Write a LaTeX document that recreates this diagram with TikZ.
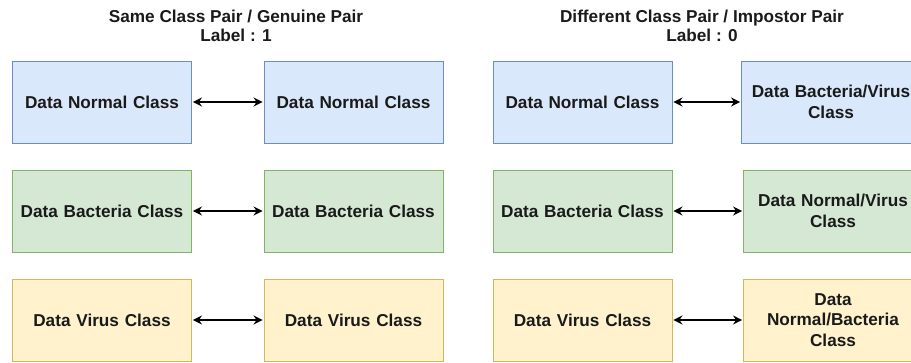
\documentclass[tikz,border=0pt]{standalone}
\usepackage{fontspec}
\setmainfont{Liberation Sans}
\usetikzlibrary{arrows.meta}
\definecolor{txt}{HTML}{1A1A1A}
\definecolor{bfill}{HTML}{DAE8FC}\definecolor{bline}{HTML}{6C8EBF}
\definecolor{gfill}{HTML}{D5E8D4}\definecolor{gline}{HTML}{82B366}
\definecolor{yfill}{HTML}{FFF2CC}\definecolor{yline}{HTML}{D6B656}
\begin{document}
\begin{tikzpicture}[x=1pt,y=-1pt,
  every node/.style={font=\bfseries\fontsize{17.2}{20.5}\selectfont, text=txt},
  box/.style={draw, line width=0.9pt, minimum width=179pt, minimum height=82pt,
    inner sep=0pt, align=center, text width=176pt},
  blue box/.style={box, fill=bfill, draw=bline},
  green box/.style={box, fill=gfill, draw=gline},
  yellow box/.style={box, fill=yfill, draw=yline},
  title/.style={align=center, font=\bfseries\fontsize{17.2}{19.5}\selectfont},
  pair/.style={{Stealth[length=9pt,width=9pt,inset=3pt]}-{Stealth[length=9pt,width=9pt,inset=3pt]},
    line width=1.6pt, black, shorten <=1pt, shorten >=1pt}]
\useasboundingbox (0,0) rectangle (911,363);
\clip (0,0) rectangle (911,363);

% column headings
\node[title] (t1) at (236,26) {Same Class Pair / Genuine Pair\\Label : 1};
\node[title] (t2) at (702,26) {Different Class Pair / Impostor Pair\\Label : 0};

% same-class pairs
\node[blue box]   (a1) at (102,102) {Data Normal Class};
\node[blue box]   (b1) at (353.5,102) {Data Normal Class};
\node[green box]  (a2) at (102,211) {Data Bacteria Class};
\node[green box]  (b2) at (353.5,211) {Data Bacteria Class};
\node[yellow box] (a3) at (102,320) {Data Virus Class};
\node[yellow box] (b3) at (353.5,320) {Data Virus Class};

% different-class pairs
\node[blue box]   (c1) at (582.5,102) {Data Normal Class};
\node[blue box]   (d1) at (831,102) {Data Bacteria/Virus\\Class};
\node[green box]  (c2) at (582.5,211) {Data Bacteria Class};
\node[green box]  (d2) at (833,211) {Data Normal/Virus\\Class};
\node[yellow box] (c3) at (582.5,320) {Data Virus Class};
\node[yellow box] (d3) at (833,320) {Data\\Normal/Bacteria\\Class};

% pair connectors
\foreach \r in {1,2,3}{
  \draw[pair] (a\r) -- (b\r);
  \draw[pair] (c\r) -- (d\r);
}
\end{tikzpicture}
\end{document}
